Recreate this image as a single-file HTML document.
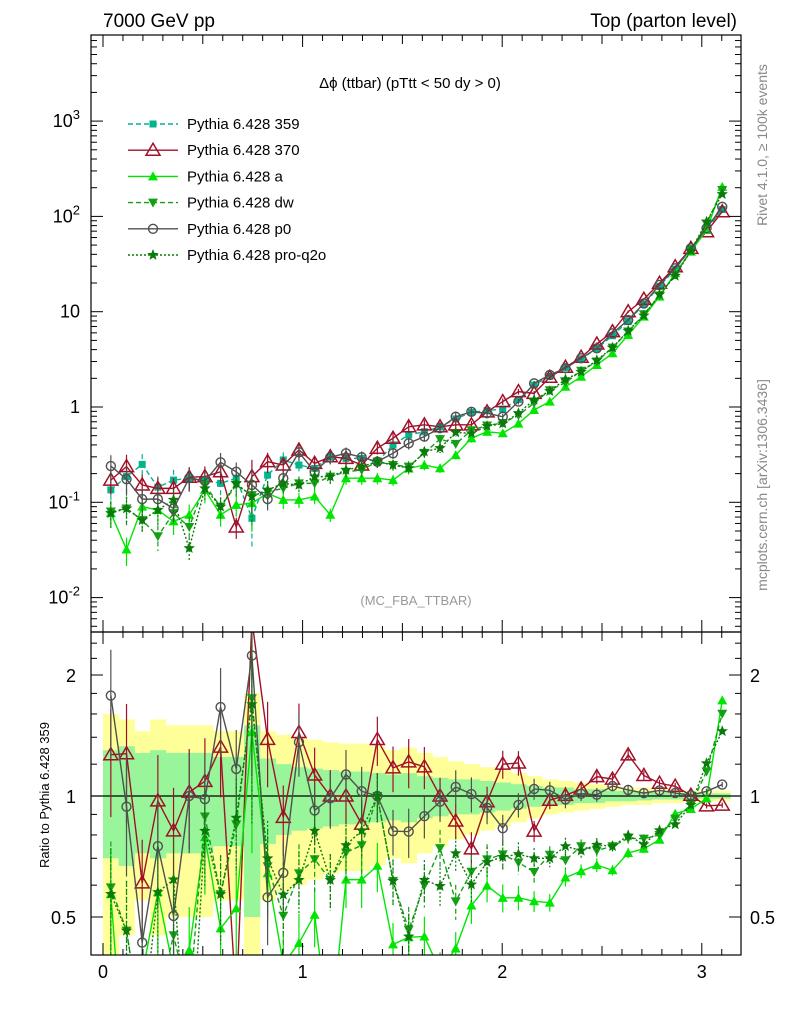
<!DOCTYPE html>
<html><head><meta charset="utf-8"><style>
html,body{margin:0;padding:0;background:#fff;width:786px;height:1024px;overflow:hidden;}
svg{display:block;font-family:"Liberation Sans",sans-serif;}
</style></head><body>
<svg id="c" width="786" height="1024" viewBox="0 0 786 1024">
<defs>
<clipPath id="ct"><rect x="91" y="35" width="650" height="597"/></clipPath>
<clipPath id="cb"><rect x="91" y="632" width="650" height="323"/></clipPath>
</defs>
<g id="bands" clip-path="url(#cb)"></g>
<g id="topg" clip-path="url(#ct)"></g>
<g id="bot" clip-path="url(#cb)"></g>
<g id="axes"></g>
<rect x="91" y="35" width="650" height="597" fill="none" stroke="#000" stroke-width="1.2"/>
<rect x="91" y="632" width="650" height="323" fill="none" stroke="#000" stroke-width="1.2"/>
<text x="103" y="27" font-size="19">7000 GeV pp</text>
<text x="737" y="27" font-size="19" text-anchor="end">Top (parton level)</text>
<text x="410" y="88" font-size="15" text-anchor="middle">Δϕ (ttbar) (pTtt &lt; 50 dy &gt; 0)</text>
<text x="416" y="605" font-size="13" fill="#999" text-anchor="middle">(MC_FBA_TTBAR)</text>
<text transform="translate(767,145) rotate(-90)" font-size="14" fill="#888" text-anchor="middle">Rivet 4.1.0, ≥ 100k events</text>
<text transform="translate(767,485) rotate(-90)" font-size="14" fill="#888" text-anchor="middle">mcplots.cern.ch [arXiv:1306.3436]</text>
<text transform="translate(49,795) rotate(-90)" font-size="13" text-anchor="middle">Ratio to Pythia 6.428 359</text>
<g id="legend"></g>
</svg>
<script>
const binCount = 40;
const r359 = [0.135,0.186,0.25,0.144,0.171,0.179,0.171,0.158,0.179,0.068,0.193,0.278,0.246,0.227,0.301,0.289,0.289,0.267,0.4,0.51,0.55,0.62,0.75,0.88,0.92,0.95,1.2,1.7,2.1,2.6,3.2,4.1,5.6,7.9,12,18.5,28,46,73,118];
const r370 = [0.171,0.237,0.152,0.140,0.140,0.183,0.186,0.209,0.055,0.186,0.267,0.246,0.354,0.256,0.301,0.289,0.246,0.369,0.47,0.62,0.65,0.62,0.65,0.65,0.89,1.14,1.45,1.39,2.05,2.61,3.33,4.58,6.17,10,13.5,19.9,29.6,46.2,69,112];
const rA = [0.077,0.032,0.09,0.083,0.063,0.074,0.135,0.074,0.094,0.098,0.124,0.106,0.106,0.115,0.074,0.179,0.179,0.179,0.171,0.227,0.246,0.228,0.313,0.47,0.55,0.53,0.67,0.93,1.14,1.63,2.08,2.76,3.66,5.7,8.87,14.4,25.3,42.7,72,204];
const rDW = [0.080,0.086,0.065,0.044,0.077,0.055,0.152,0.090,0.152,0.119,0.129,0.140,0.158,0.158,0.186,0.209,0.218,0.267,0.246,0.237,0.33,0.46,0.41,0.57,0.64,0.68,0.82,1.1,1.5,1.8,2.4,3.0,4.2,6.2,9.4,14.8,24.6,43.7,84,189];
const rP0 = [0.24,0.175,0.108,0.108,0.086,0.179,0.168,0.263,0.209,0.152,0.108,0.179,0.335,0.209,0.297,0.327,0.297,0.267,0.327,0.416,0.49,0.6,0.79,0.89,0.86,0.79,1.14,1.77,2.17,2.55,3.24,4.13,5.93,8.18,12.2,19.1,28.5,46.2,75,126];
const rPQ = [0.077,0.086,0.065,0.083,0.106,0.033,0.140,0.090,0.158,0.115,0.135,0.158,0.152,0.186,0.186,0.218,0.237,0.267,0.246,0.228,0.34,0.37,0.54,0.53,0.63,0.67,0.86,1.19,1.47,1.95,2.34,3.1,4.2,6.3,9.1,15.2,23.8,43.7,88,171];
const bandYellow = [0.6,0.55,0.45,0.55,0.5,0.5,0.5,0.45,0.45,0.8,0.45,0.42,0.4,0.38,0.36,0.35,0.35,0.33,0.3,0.32,0.28,0.25,0.22,0.2,0.18,0.16,0.14,0.12,0.1,0.09,0.08,0.07,0.06,0.05,0.05,0.04,0.04,0.03,0.03,0.03];
const bandGreen = [0.3,0.33,0.28,0.3,0.28,0.28,0.28,0.25,0.25,0.5,0.24,0.2,0.18,0.17,0.16,0.15,0.15,0.14,0.13,0.14,0.12,0.11,0.1,0.1,0.09,0.08,0.07,0.06,0.05,0.05,0.04,0.04,0.03,0.03,0.025,0.02,0.02,0.02,0.015,0.015];
const topTickLabels = ["10<sup>-2</sup>","10<sup>-1</sup>","1","10","10<sup>2</sup>","10<sup>3</sup>"];
const topTickValues = [0.01,0.1,1,10,100,1000];
const ratioTickValues = [0.5,1,2];
const ratioTickLabels = ["0.5","1","2"];
const xTickValues = [0,1,2,3];

const NS="http://www.w3.org/2000/svg";
const X=v=>103+v*199.6;
const YT=v=>407-Math.log10(v)*95.3;
const YB=r=>796-Math.log2(r)*121;
const bw=Math.PI/binCount;
function mk(tag,attrs,parent){const e=document.createElementNS(NS,tag);for(const k in attrs)e.setAttribute(k,attrs[k]);parent.appendChild(e);return e;}
const gTop=document.getElementById('topg'),gBot=document.getElementById('bot'),gBands=document.getElementById('bands'),gAxes=document.getElementById('axes'),gLegend=document.getElementById('legend');

for(let i=0;i<binCount;i++){
  const x0=X(i*bw),x1=X((i+1)*bw);
  const y=mk('rect',{x:x0,y:YB(1+bandYellow[i]),width:x1-x0+0.5,height:YB(Math.max(1-bandYellow[i],0.05))-YB(1+bandYellow[i]),fill:'#ffff99'},gBands);
  
  
}
for(let i=0;i<binCount;i++){
  const x0=X(i*bw),x1=X((i+1)*bw);
  const g=mk('rect',{x:x0,y:YB(1+bandGreen[i]),width:x1-x0+0.5,height:YB(1-bandGreen[i])-YB(1+bandGreen[i]),fill:'#99f599'},gBands);
  
  
}
const one=mk('line',{x1:91,x2:741,y1:YB(1),y2:YB(1),stroke:'#000','stroke-width':1.2},gBot);



const series=[
 {name:'Pythia 6.428 359',key:'359',d:r359,col:'#00b48c',dash:'5,3',m:'sq'},
 {name:'Pythia 6.428 370',key:'370',d:r370,col:'#a01028',dash:'',m:'otri'},
 {name:'Pythia 6.428 a',key:'a',d:rA,col:'#00e600',dash:'',m:'tri'},
 {name:'Pythia 6.428 dw',key:'dw',d:rDW,col:'#14a014',dash:'5,3',m:'dtri'},
 {name:'Pythia 6.428 p0',key:'p0',d:rP0,col:'#505050',dash:'',m:'circ'},
 {name:'Pythia 6.428 pro-q2o',key:'pro-q2o',d:rPQ,col:'#0a7a0a',dash:'2,2',m:'star'}
];
function marker(g,m,x,y,col){
  let e;
  if(m==='sq')e=mk('rect',{x:x-3.5,y:y-3.5,width:7,height:7,fill:col},g);
  else if(m==='otri')e=mk('path',{d:`M${x},${y-7}L${x+7},${y+5}L${x-7},${y+5}Z`,fill:'none',stroke:col,'stroke-width':1.5},g);
  else if(m==='tri')e=mk('path',{d:`M${x},${y-5}L${x+5},${y+4}L${x-5},${y+4}Z`,fill:col},g);
  else if(m==='dtri')e=mk('path',{d:`M${x},${y+5}L${x+5},${y-4}L${x-5},${y-4}Z`,fill:col},g);
  else if(m==='circ')e=mk('circle',{cx:x,cy:y,r:4.5,fill:'none',stroke:col,'stroke-width':1.4},g);
  else {let p='';for(let k=0;k<10;k++){const a=-Math.PI/2+k*Math.PI/5,r=k%2?2.6:6;p+=(k?'L':'M')+(x+r*Math.cos(a)).toFixed(1)+','+(y+r*Math.sin(a)).toFixed(1);}e=mk('path',{d:p+'Z',fill:col},g);}
  return e;
}
function drawSeries(parent,s,vals,Yf){
  const g=mk('g',{},parent);
  
  
  const pts=vals.map((v,i)=>[X((i+0.5)*bw),Yf(v)]);
  for(let i=0;i<binCount;i++){
    const v=vals[i],e=v*bandGreen[i];
    const eb=mk('line',{x1:pts[i][0],x2:pts[i][0],y1:Yf(v+e),y2:Yf(Math.max(v-e,v*0.05)),stroke:s.col,'stroke-width':1.2,'stroke-dasharray':s.dash},g);
    
    
  }
  const pl=mk('polyline',{points:pts.map(p=>p.join(',')).join(' '),fill:'none',stroke:s.col,'stroke-width':1.4,'stroke-dasharray':s.dash},g);
  
  
  pts.forEach(p=>{const mm=marker(g,s.m,p[0],p[1],s.col);
    
    });
}
series.forEach(s=>drawSeries(gTop,s,s.d,YT));
series.filter(s=>s.key!=='359').forEach(s=>drawSeries(gBot,s,s.d.map((v,i)=>v/r359[i]),YB));

series.forEach((s,k)=>{
  const y=124+k*26.2;
  const g=mk('g',{},gLegend);
  
  
  mk('line',{x1:128,x2:178,y1:y,y2:y,stroke:s.col,'stroke-width':1.4,'stroke-dasharray':s.dash},g);
  marker(g,s.m,153,y,s.col);
  const t=mk('text',{x:187,y:y+5,'font-size':15},g);t.textContent=s.name;
});

function tk(x1,y1,x2,y2){mk('line',{x1,y1,x2,y2,stroke:'#000','stroke-width':1},gAxes);}
for(let d=-3;d<=3;d++){for(let m=1;m<10;m++){const v=m*Math.pow(10,d),y=YT(v);if(y<36||y>631)continue;const L=m===1?12:6;tk(91,y,91+L,y);tk(741,y,741-L,y);}}
topTickValues.forEach((v,i)=>{
  const t=document.createElementNS(NS,'text');
  const y=YT(v);
  t.setAttribute('x',80);t.setAttribute('y',y+6);t.setAttribute('font-size',18);t.setAttribute('text-anchor','end');
  
  
  const lab=topTickLabels[i];
  if(lab.indexOf('<sup>')>=0){const base=lab.split('<sup>')[0],ex=lab.split('<sup>')[1].replace('</sup>','');
    const s1=document.createElementNS(NS,'tspan');s1.textContent=base;t.appendChild(s1);
    const s2=document.createElementNS(NS,'tspan');s2.setAttribute('dy',-8);s2.setAttribute('font-size',13);s2.textContent=ex;t.appendChild(s2);}
  else t.textContent=lab;
  gAxes.appendChild(t);
});
[0.4,0.5,0.6,0.7,0.8,0.9,1,1.2,1.4,1.6,1.8,2,2.2,2.4].forEach(v=>{const y=YB(v);if(y<633||y>954)return;const L=ratioTickValues.includes(v)?12:6;tk(91,y,91+L,y);tk(741,y,741-L,y);});
ratioTickValues.forEach((v,i)=>{
  [76,750].forEach((x,j)=>{const t=mk('text',{x:x,y:YB(v)+7,'font-size':18,'text-anchor':j?'start':'end'},gAxes);t.textContent=ratioTickLabels[i];
  
  });
});
for(let k=0;k<=32;k++){const v=k/10,x=X(v);if(x>740)continue;const L=k%10===0?12:(k%5===0?9:6);
  tk(x,632,x,632-L);tk(x,35,x,35+L);tk(x,955,x,955-L);tk(x,632,x,632+L);}
xTickValues.forEach(v=>{const t=mk('text',{x:X(v),y:978,'font-size':18,'text-anchor':'middle'},gAxes);t.textContent=String(v);
  
  });
</script>
</body></html>
